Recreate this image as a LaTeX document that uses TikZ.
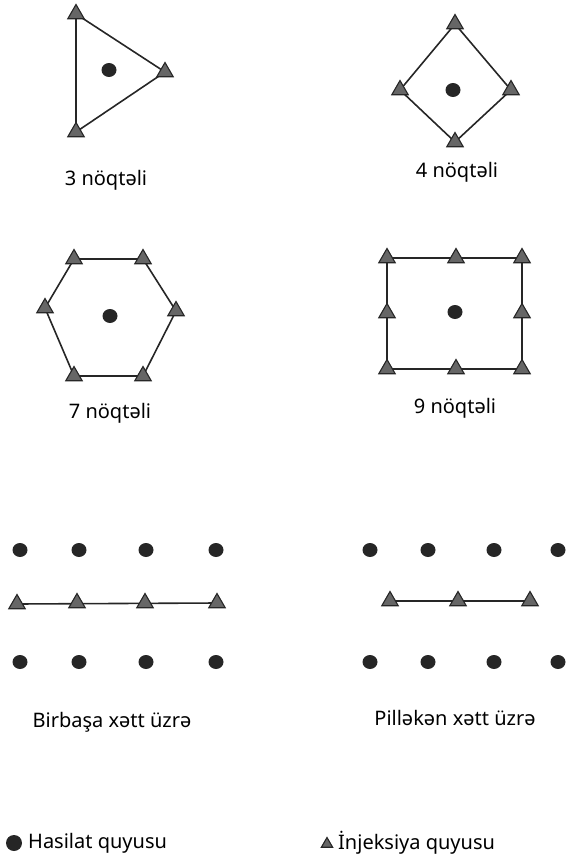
\documentclass[tikz,border=0pt]{standalone}
\usepackage{fontspec}
\setmainfont{Noto Sans}
\usetikzlibrary{shapes.geometric,backgrounds}
\begin{document}
\begin{tikzpicture}[x=1pt, y=-1pt]
        \tikzstyle{inj} = [draw=black!85, fill=black!60, regular polygon, regular polygon sides=3, minimum size=19pt, inner sep=0pt, line width=1.1pt]
        \tikzstyle{prod} = [fill=black!85, ellipse, minimum width=15pt, minimum height=14pt, inner sep=0pt]
        \tikzstyle{lbl} = [font=\fontsize{20}{24}\selectfont, inner sep=0pt]
        \tikzstyle{edge} = [draw=black!85, line width=1.6pt]
        \useasboundingbox (0,0) rectangle (565,859);
        % 3 noqteli
        \node[inj] (t1) at (76,14) {};
        \node[inj] (t2) at (165,72) {};
        \node[inj] (t3) at (76,132) {};
        \node[prod] (tp) at (109,70) {};
        \node[lbl] (tl) at (106,180) {3 nöqtəli};
        % 4 noqteli
        \node[inj] (d1) at (455,24) {};
        \node[inj] (d2) at (511,90) {};
        \node[inj] (d3) at (455,142) {};
        \node[inj] (d4) at (400,90) {};
        \node[prod] (dp) at (453,90) {};
        \node[lbl] (dl) at (457,172) {4 nöqtəli};
        % 7 noqteli
        \node[inj] (h1) at (74,259) {};
        \node[inj] (h2) at (143,259) {};
        \node[inj] (h3) at (176,311) {};
        \node[inj] (h4) at (143,376) {};
        \node[inj] (h5) at (74,376) {};
        \node[inj] (h6) at (45,308) {};
        \node[prod] (hp) at (110,316) {};
        \node[lbl] (hl) at (110,413) {7 nöqtəli};
        % 9 noqteli
        \node[inj] (s1) at (387,258) {};
        \node[inj] (s2) at (456,258) {};
        \node[inj] (s3) at (522,258) {};
        \node[inj] (s4) at (522,313) {};
        \node[inj] (s5) at (522,369) {};
        \node[inj] (s6) at (456,369) {};
        \node[inj] (s7) at (387,369) {};
        \node[inj] (s8) at (387,313) {};
        \node[prod] (sp) at (455,312) {};
        \node[lbl] (sl) at (455,408) {9 nöqtəli};
        % birbasa xett
        \foreach \i/\x in {1/20, 2/79, 3/146, 4/216} {
          \node[prod] (ba\i) at (\x,550) {};
          \node[prod] (bc\i) at (\x,662) {};
        }
        \node[inj] (bb1) at (17,604) {};
        \node[inj] (bb2) at (77,603) {};
        \node[inj] (bb3) at (145,603) {};
        \node[inj] (bb4) at (217,603) {};
        \node[lbl] (bl) at (112,722) {Birbaşa xətt üzrə};
        % pilleken xett
        \foreach \i/\x in {1/370, 2/428, 3/494, 4/558} {
          \node[prod] (pa\i) at (\x,550) {};
          \node[prod] (pc\i) at (\x,662) {};
        }
        \node[inj] (pb1) at (390,601) {};
        \node[inj] (pb2) at (458,601) {};
        \node[inj] (pb3) at (530,601) {};
        \node[lbl] (pl) at (455,718) {Pilləkən xətt üzrə};
        % legend
        \node[prod, minimum width=16pt, minimum height=16pt] (lp) at (14,843) {};
        \node[lbl, anchor=west] (lpt) at (28,843) {Hasilat quyusu};
        \node[inj, minimum size=13pt] (li) at (327,844) {};
        \node[lbl, anchor=west] (lit) at (338,843) {İnjeksiya quyusu};
        % lines
        \begin{scope}[on background layer]
          \draw[edge] (t1.center) -- (t2.center) -- (t3.center) -- cycle;
          \draw[edge] (d1.center) -- (d2.center) -- (d3.center) -- (d4.center) -- cycle;
          \draw[edge] (h1.center) -- (h2.center) -- (h3.center) -- (h4.center) -- (h5.center) -- (h6.center) -- cycle;
          \draw[edge] (s1.center) -- (s3.center) -- (s5.center) -- (s7.center) -- cycle;
          \draw[edge] (bb1.center) -- (bb4.center);
          \draw[edge] (pb1.center) -- (pb3.center);
        \end{scope}
\end{tikzpicture}
\end{document}
